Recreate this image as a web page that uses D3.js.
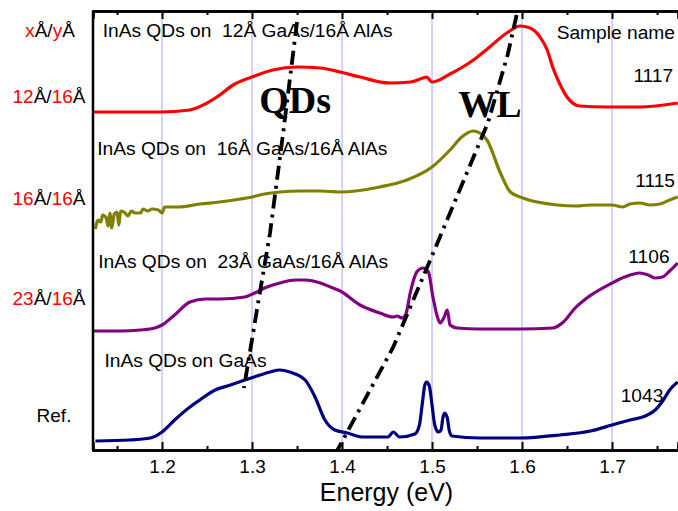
<!DOCTYPE html>
<html>
<head>
<meta charset="utf-8">
<script src="https://cdn.jsdelivr.net/npm/d3@7"></script>
<style>
  body { margin: 0; background: #fff; }
  svg text { font-family: "Liberation Sans", Arial, sans-serif; white-space: pre; }
</style>
</head>
<body>
<div id="chart"></div>
<script>
// energy (eV), intensity (a.u., stacked with offset)
const red1117 = [
  [1.124,338],[1.164,338],[1.198,338],[1.231,340],[1.248,346],[1.261,353],[1.279,365],
  [1.300,373],[1.323,380],[1.350,383],[1.376,382],[1.398,378],[1.420,373],[1.453,367],
  [1.476,368],[1.490,372],[1.494,373],[1.500,368],[1.520,376],[1.546,390],[1.564,403],
  [1.583,417],[1.598,424],[1.609,422],[1.620,413],[1.628,400],[1.634,383],[1.642,366],
  [1.650,353],[1.664,344],[1.694,343],[1.731,343],[1.773,347]
];
const olive1115 = [
  [1.126,221],[1.129,230],[1.132,228],[1.134,235],[1.138,232],[1.140,224],[1.142,237],
  [1.144,222],[1.147,236],[1.150,238],[1.152,225],[1.154,239],[1.159,237],[1.162,234],
  [1.166,239],[1.170,237],[1.176,237],[1.179,241],[1.184,239],[1.189,241],[1.196,240],
  [1.200,237],[1.203,243],[1.218,243],[1.242,246],[1.264,248],[1.287,251],[1.300,253],
  [1.314,256],[1.331,258],[1.353,259],[1.376,259],[1.398,258],[1.442,263],[1.472,270],
  [1.500,283],[1.520,300],[1.533,313],[1.546,319],[1.553,317],[1.561,310],[1.576,277],
  [1.587,258],[1.601,252],[1.639,245],[1.660,244],[1.676,245],[1.700,245],[1.712,243],
  [1.720,246],[1.731,247],[1.742,245],[1.753,246],[1.764,250],[1.773,253]
];
const purple1106 = [
  [1.124,119],[1.153,119],[1.176,120],[1.192,122],[1.200,125],[1.214,135],[1.231,148],
  [1.248,151],[1.264,151],[1.292,153],[1.303,157],[1.314,162],[1.331,167],[1.348,170],
  [1.359,170],[1.376,167],[1.387,163],[1.398,159],[1.420,145],[1.442,137],[1.457,133],
  [1.461,134],[1.467,132],[1.471,136],[1.476,158],[1.483,178],[1.490,182],[1.496,178],
  [1.501,153],[1.506,133],[1.509,127],[1.513,132],[1.517,140],[1.520,125],[1.528,122],
  [1.553,121],[1.598,121],[1.634,122],[1.646,128],[1.659,142],[1.672,152],[1.700,167],
  [1.714,173],[1.731,177],[1.740,175],[1.748,172],[1.756,173],[1.764,179],[1.773,187]
];
const navy1043 = [
  [1.126,9],[1.164,10],[1.187,12],[1.200,18],[1.214,30],[1.231,43],[1.242,50],[1.259,60],
  [1.276,65],[1.292,70],[1.309,75],[1.320,78],[1.331,80],[1.342,78],[1.359,70],[1.370,53],
  [1.381,30],[1.392,20],[1.406,17],[1.423,13],[1.451,13],[1.457,18],[1.464,13],[1.481,16],
  [1.486,25],[1.489,45],[1.492,65],[1.494,68],[1.497,64],[1.500,45],[1.503,25],[1.507,18],
  [1.510,20],[1.512,32],[1.514,37],[1.517,32],[1.519,20],[1.522,14],[1.553,12],[1.598,12],
  [1.642,15],[1.676,19],[1.700,25],[1.720,30],[1.737,34],[1.748,40],[1.757,50],[1.764,60],
  [1.773,68]
];

const series = [
  { name: "1117", color: "#ff0000", data: red1117 },
  { name: "1115", color: "#808000", data: olive1115 },
  { name: "1106", color: "#800080", data: purple1106 },
  { name: "1043", color: "#000080", data: navy1043 }
];

// guide lines (dash-dot)
const qdLine = [[1.350,428],[1.334,313],[1.320,217],[1.306,143],[1.291,62]];
const wlLine = [[1.594,435],[1.584,395],[1.562,327],[1.506,207],[1.457,103],[1.395,0]];

const majorTicks = [1.2, 1.3, 1.4, 1.5, 1.6, 1.7];
const minorTicks = [1.15, 1.25, 1.35, 1.45, 1.55, 1.65, 1.75];

const width = 678, height = 511;
const margin = { top: 11, right: 0, bottom: 61, left: 93 };

const svg = d3.select("#chart").append("svg")
  .attr("width", width)
  .attr("height", height);

const x = d3.scaleLinear()
  .domain([1.1233, 1.7733])
  .range([margin.left, width - margin.right]);

const y = d3.scaleLinear()
  .domain([0, 439])
  .range([height - margin.bottom, margin.top]);

svg.append("clipPath").attr("id", "clip")
  .append("rect")
  .attr("x", margin.left).attr("y", margin.top)
  .attr("width", width - margin.left - margin.right)
  .attr("height", height - margin.top - margin.bottom);

//grid
svg.selectAll(".grid")
  .data(majorTicks)
  .enter()
  .append("line")
  .attr("class", "grid")
  .attr("x1", d => x(d)).attr("x2", d => x(d))
  .attr("y1", y(0)).attr("y2", y(439))
  .attr("stroke", "#a6a6ff")
  .attr("stroke-width", 1);

// texts in plot
const labels = [
  { t: "InAs QDs on  12Å GaAs/16Å AlAs", x: 1.134, y: 413, a: "start" },
  { t: "InAs QDs on  16Å GaAs/16Å AlAs", x: 1.128, y: 295, a: "start" },
  { t: "InAs QDs on  23Å GaAs/16Å AlAs", x: 1.129, y: 182, a: "start" },
  { t: "InAs QDs on GaAs", x: 1.136, y: 83, a: "start" },
  { t: "Sample name", x: 1.770, y: 411, a: "end" },
  { t: "1117", x: 1.768, y: 368, a: "end" },
  { t: "1115", x: 1.770, y: 263, a: "end" },
  { t: "1106", x: 1.764, y: 187, a: "end" },
  { t: "1043", x: 1.757, y: 48, a: "end" }
];
svg.selectAll(".lbl")
  .data(labels)
  .enter()
  .append("text")
  .attr("class", "lbl")
  .attr("x", d => x(d.x))
  .attr("y", d => y(d.y))
  .attr("text-anchor", d => d.a)
  .attr("font-size", "19.2px")
  .attr("fill", "#000")
  .text(d => d.t);

// curves
const line = d3.line()
  .x(d => x(d[0]))
  .y(d => y(d[1]))
  .curve(d3.curveMonotoneX);

svg.append("g").attr("clip-path", "url(#clip)")
  .selectAll("path")
  .data(series)
  .enter()
  .append("path")
  .attr("d", d => line(d.data))
  .attr("fill", "none")
  .attr("stroke", d => d.color)
  .attr("stroke-width", 3.2)
  .attr("stroke-linejoin", "round");

// QDs / WL big labels
svg.append("text")
  .attr("x", x(1.308)).attr("y", y(337))
  .style("font-family", "'Liberation Serif', 'Times New Roman', serif")
  .attr("font-weight", "bold")
  .attr("font-size", "38px")
  .text("QDs");
svg.append("text")
  .attr("x", x(1.529)).attr("y", y(333))
  .style("font-family", "'Liberation Serif', 'Times New Roman', serif")
  .attr("font-weight", "bold")
  .attr("font-size", "38px")
  .text("WL");

const guide = d3.line().x(d => x(d[0])).y(d => y(d[1]));
svg.selectAll(".guide")
  .data([qdLine, wlLine])
  .enter()
  .append("path")
  .attr("class", "guide")
  .attr("d", guide)
  .attr("fill", "none")
  .attr("stroke", "#000")
  .attr("stroke-width", 3.8)
  .attr("stroke-dasharray", "14,6,3,6");

// axes
const xAxis = svg.append("g")
  .attr("transform", `translate(0,${y(0)})`)
  .call(d3.axisBottom(x).tickValues(majorTicks).tickSize(-8).tickPadding(10)
    .tickFormat(d3.format(".1f")));
xAxis.selectAll("text")
  .attr("font-size", "19px")
  .attr("fill", "#000")
  .style("font-family", "'Liberation Sans', Arial, sans-serif");

svg.append("g")
  .attr("transform", `translate(0,${y(0)})`)
  .call(d3.axisBottom(x).tickValues(minorTicks).tickSize(-4).tickFormat(""));

svg.append("g")
  .attr("transform", `translate(0,${y(439)})`)
  .call(d3.axisTop(x).tickValues(majorTicks).tickSize(-8).tickFormat(""));
svg.append("g")
  .attr("transform", `translate(0,${y(439)})`)
  .call(d3.axisTop(x).tickValues(minorTicks).tickSize(-4).tickFormat(""));

svg.selectAll(".domain").attr("stroke-width", 2.5).attr("stroke", "#000");
svg.selectAll(".tick line").attr("stroke-width", 2).attr("stroke", "#000");

svg.append("line")
  .attr("x1", margin.left).attr("x2", margin.left)
  .attr("y1", y(439)).attr("y2", y(0))
  .attr("stroke", "#000").attr("stroke-width", 2.5);

svg.append("text")
  .attr("x", (margin.left + width) / 2 + 1)
  .attr("y", 500.5)
  .attr("text-anchor", "middle")
  .attr("font-size", "25px")
  .text("Energy (eV)");

// left side labels
const sideLabels = [
  { parts: [["x", "red"], ["Å/", "#000"], ["y", "red"], ["Å", "#000"]], x: 50, y: 37 },
  { parts: [["12", "red"], ["Å/", "#000"], ["16", "red"], ["Å", "#000"]], x: 49, y: 103 },
  { parts: [["16", "red"], ["Å/", "#000"], ["16", "red"], ["Å", "#000"]], x: 49, y: 205 },
  { parts: [["23", "red"], ["Å/", "#000"], ["16", "red"], ["Å", "#000"]], x: 49, y: 305 },
  { parts: [["Ref.", "#000"]], x: 54, y: 422 }
];
const side = svg.selectAll(".side")
  .data(sideLabels)
  .enter()
  .append("text")
  .attr("class", "side")
  .attr("x", d => d.x)
  .attr("y", d => d.y)
  .attr("text-anchor", "middle")
  .attr("font-size", "19px");
side.selectAll("tspan")
  .data(d => d.parts)
  .enter()
  .append("tspan")
  .attr("fill", d => d[1])
  .text(d => d[0]);
</script>
</body>
</html>
